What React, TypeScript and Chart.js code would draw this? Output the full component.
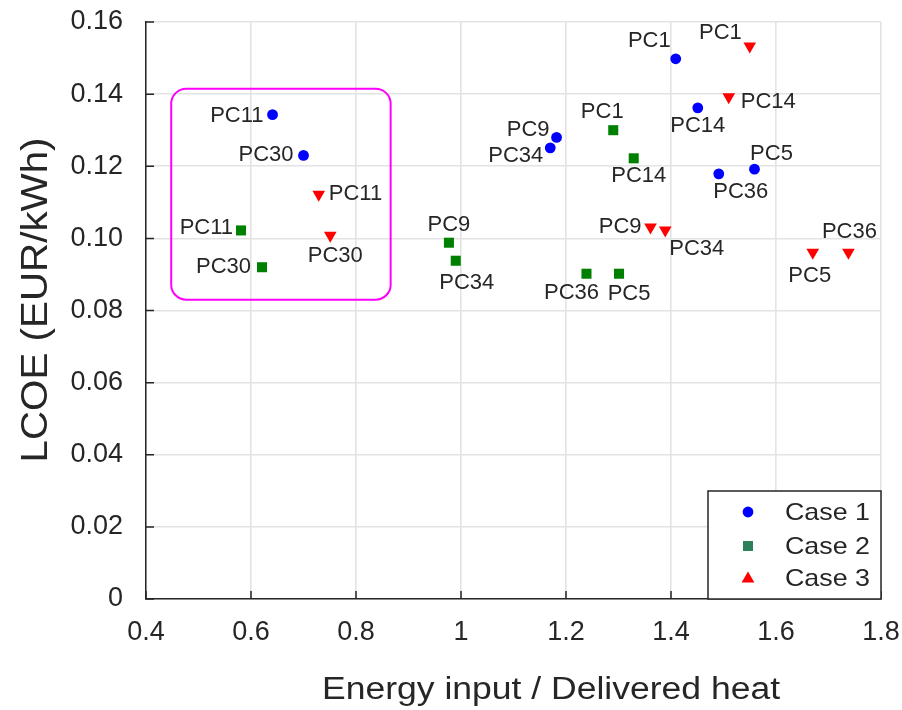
import React, { useEffect, useRef } from 'react';
import { Chart, registerables } from 'chart.js';

Chart.register(...registerables);

// ---------- data ----------
const pointNames = ['PC11', 'PC30', 'PC9', 'PC34', 'PC1', 'PC14', 'PC36', 'PC5'];

const case1X = [0.641, 0.700, 1.182, 1.170, 1.409, 1.451, 1.491, 1.559];
const case1Y = [0.1343, 0.1230, 0.1280, 0.1251, 0.1498, 0.1362, 0.1179, 0.1192];

const case2X = [0.581, 0.621, 0.977, 0.990, 1.290, 1.329, 1.239, 1.301];
const case2Y = [0.1022, 0.0920, 0.0988, 0.0938, 0.1300, 0.1222, 0.0902, 0.0902];

const case3X = [0.729, 0.751, 1.361, 1.389, 1.550, 1.510, 1.738, 1.670];
const case3Y = [0.1122, 0.1008, 0.1031, 0.1023, 0.1533, 0.1392, 0.0961, 0.0961];

const seriesNames = ['Case 1', 'Case 2', 'Case 3'];
const xTickLabels = ['0.4', '0.6', '0.8', '1', '1.2', '1.4', '1.6', '1.8'];
const yTickLabels = ['0', '0.02', '0.04', '0.06', '0.08', '0.10', '0.12', '0.14', '0.16'];
const xTitle = 'Energy input / Delivered heat';
const yTitle = 'LCOE (EUR/kWh)';

// highlighted group (data-space extent of the rounded box)
const highlightX = [0.448, 0.866];
const highlightY = [0.083, 0.1415];

// ---------- label placement (align, dx px, dy px) ----------
type Place = [string, number, number];
const place1: Place[] = [
  ['r', -9, 1], ['r', -10, 0], ['r', -7, -7], ['r', -7, 8],
  ['r', -5, -18], ['c', 0, 18], ['c', 22, 18], ['c', 17, -15],
];
const place2: Place[] = [
  ['r', -8, -3], ['r', -11, 0], ['c', 0, -18], ['c', 11, 22],
  ['c', -11, -18], ['c', 5, 18], ['c', -15, 19], ['c', 10, 20],
];
const place3: Place[] = [
  ['l', 10, 0], ['c', 5, 20], ['r', -9, 0], ['l', 4, 19],
  ['r', -8, -13], ['l', 12, 5], ['c', 1, -21], ['c', -3, 23],
];
const placements = [place1, place2, place3];

const FONT = "'Liberation Sans', Arial, Helvetica, sans-serif";
const TEXT = '#262626';
const COL1 = '#0000ff';
const COL2 = '#008000';
const COL2_LEGEND = '#2e7f5c';
const COL3 = '#ff0000';

const toPts = (xs: number[], ys: number[]) => xs.map((x, i) => ({ x, y: ys[i] }));

const findLabel = (labels: string[], v: number) =>
  labels.find((l) => Math.abs(parseFloat(l) - v) < 1e-6) ?? '';

function stretchFor(ctx: CanvasRenderingContext2D, text: string, targetWidth: number) {
  const w = ctx.measureText(text).width;
  return targetWidth / w;
}

const noScalePadding = (s: any) => {
  s.paddingTop = 0;
  s.paddingBottom = 0;
  s.paddingLeft = 0;
  s.paddingRight = 0;
};

const decor = {
  id: 'decor',
  beforeDatasetsDraw(chart: any) {
    const { ctx, scales } = chart;
    const xs = scales.x;
    const ys = scales.y;
    const l = xs.getPixelForValue(highlightX[0]);
    const r = xs.getPixelForValue(highlightX[1]);
    const t = ys.getPixelForValue(highlightY[1]);
    const b = ys.getPixelForValue(highlightY[0]);
    ctx.save();
    ctx.strokeStyle = '#ff00ff';
    ctx.lineWidth = 2;
    ctx.beginPath();
    (ctx as any).roundRect(l, t, r - l, b - t, 15);
    ctx.stroke();
    ctx.restore();
  },
  afterDatasetsDraw(chart: any) {
    const { ctx } = chart;
    ctx.save();
    ctx.font = `22px ${FONT}`;
    ctx.fillStyle = TEXT;
    ctx.textBaseline = 'middle';
    chart.data.datasets.forEach((_ds: any, i: number) => {
      const meta = chart.getDatasetMeta(i);
      meta.data.forEach((pt: any, j: number) => {
        const [al, dx, dy] = placements[i][j];
        ctx.textAlign = al === 'l' ? 'left' : al === 'r' ? 'right' : 'center';
        ctx.fillText(pointNames[j], pt.x + dx, pt.y + dy);
      });
    });
    ctx.restore();
  },
  afterDraw(chart: any) {
    const { ctx, chartArea, scales } = chart;
    const { left, right, top, bottom } = chartArea;
    ctx.save();
    // inward tick marks
    ctx.strokeStyle = TEXT;
    ctx.lineWidth = 1.5;
    ctx.beginPath();
    scales.x.ticks.forEach((t: any) => {
      const px = scales.x.getPixelForValue(t.value);
      ctx.moveTo(px, bottom);
      ctx.lineTo(px, bottom - 8);
    });
    scales.y.ticks.forEach((t: any) => {
      const py = scales.y.getPixelForValue(t.value);
      ctx.moveTo(left, py);
      ctx.lineTo(left + 8, py);
    });
    ctx.stroke();

    // legend box
    const lw = 173;
    const lh = 108;
    const lx = right - lw;
    const ly = bottom - lh;
    ctx.fillStyle = '#ffffff';
    ctx.fillRect(lx, ly, lw, lh);
    ctx.strokeStyle = TEXT;
    ctx.lineWidth = 1.5;
    ctx.strokeRect(lx, ly, lw, lh);
    const rows = [ly + 21, ly + 55, ly + 87];
    const mx = lx + 40;
    ctx.fillStyle = COL1;
    ctx.beginPath();
    ctx.arc(mx, rows[0], 5.4, 0, Math.PI * 2);
    ctx.fill();
    ctx.fillStyle = COL2_LEGEND;
    ctx.fillRect(mx - 5, rows[1] - 5, 10, 10);
    ctx.fillStyle = COL3;
    ctx.beginPath();
    ctx.moveTo(mx, rows[2] - 6.5);
    ctx.lineTo(mx + 6.4, rows[2] + 4.5);
    ctx.lineTo(mx - 6.4, rows[2] + 4.5);
    ctx.closePath();
    ctx.fill();
    ctx.fillStyle = TEXT;
    ctx.font = `24px ${FONT}`;
    ctx.textAlign = 'left';
    ctx.textBaseline = 'middle';
    const ls = stretchFor(ctx, seriesNames[0], 85);
    seriesNames.forEach((name, i) => {
      ctx.save();
      ctx.translate(lx + 77, rows[i] + 1);
      ctx.scale(ls, 1);
      ctx.fillText(name, 0, 0);
      ctx.restore();
    });

    // x title
    ctx.font = `31px ${FONT}`;
    ctx.textAlign = 'center';
    ctx.textBaseline = 'alphabetic';
    {
      const s = stretchFor(ctx, xTitle, 458);
      ctx.save();
      ctx.translate(left + 405, bottom + 100);
      ctx.scale(s, 1);
      ctx.fillText(xTitle, 0, 0);
      ctx.restore();
    }
    // y title
    ctx.font = `37px ${FONT}`;
    {
      const s = stretchFor(ctx, yTitle, 325);
      ctx.save();
      ctx.translate(left - 99, top + 278);
      ctx.rotate(-Math.PI / 2);
      ctx.scale(s, 1);
      ctx.fillText(yTitle, 0, 0);
      ctx.restore();
    }
    ctx.restore();
  },
};

export default function App() {
  const ref = useRef<HTMLCanvasElement>(null);

  useEffect(() => {
    if (!ref.current) return;
    const chart = new Chart(ref.current, {
      type: 'scatter',
      data: {
        datasets: [
          {
            label: seriesNames[0],
            data: toPts(case1X, case1Y),
            pointStyle: 'circle',
            pointRadius: 5.4,
            backgroundColor: COL1,
            borderWidth: 0,
          },
          {
            label: seriesNames[1],
            data: toPts(case2X, case2Y),
            pointStyle: 'rect',
            pointRadius: 7.1,
            backgroundColor: COL2,
            borderWidth: 0,
          },
          {
            label: seriesNames[2],
            data: toPts(case3X, case3Y),
            pointStyle: 'triangle',
            pointRotation: 180,
            pointRadius: 7.3,
            backgroundColor: COL3,
            borderWidth: 0,
          },
        ],
      },
      options: {
        responsive: false,
        devicePixelRatio: 1,
        animation: false,
        events: [],
        layout: { padding: { left: 0, right: 21, top: 22, bottom: 0 } },
        plugins: {
          legend: { display: false },
          tooltip: { enabled: false },
          title: { display: false },
        },
        scales: {
          x: {
            type: 'linear',
            min: 0.4,
            max: 1.8,
            afterFit: (s: any) => {
              s.height = 111;
              noScalePadding(s);
            },
            grid: { color: '#e3e3e3', lineWidth: 1.6, drawTicks: false },
            border: { display: true, color: TEXT, width: 1.5 },
            ticks: {
              stepSize: 0.2,
              padding: 17,
              color: TEXT,
              font: { family: FONT, size: 27 },
              maxRotation: 0,
              callback: (v: any) => findLabel(xTickLabels, Number(v)),
            },
          },
          y: {
            type: 'linear',
            min: 0,
            max: 0.16,
            afterFit: (s: any) => {
              s.width = 146;
              noScalePadding(s);
            },
            grid: { color: '#e3e3e3', lineWidth: 1.6, drawTicks: false },
            border: { display: true, color: TEXT, width: 1.5 },
            ticks: {
              stepSize: 0.02,
              padding: 23,
              color: TEXT,
              font: { family: FONT, size: 27 },
              callback: (v: any) => findLabel(yTickLabels, Number(v)),
            },
          },
        },
      },
      plugins: [decor],
    });
    return () => chart.destroy();
  }, []);

  return (
    <div style={{ position: 'absolute', left: 0, top: 0, width: 902, height: 710, background: '#fff' }}>
      <canvas ref={ref} width={902} height={710} style={{ display: 'block' }} />
    </div>
  );
}
